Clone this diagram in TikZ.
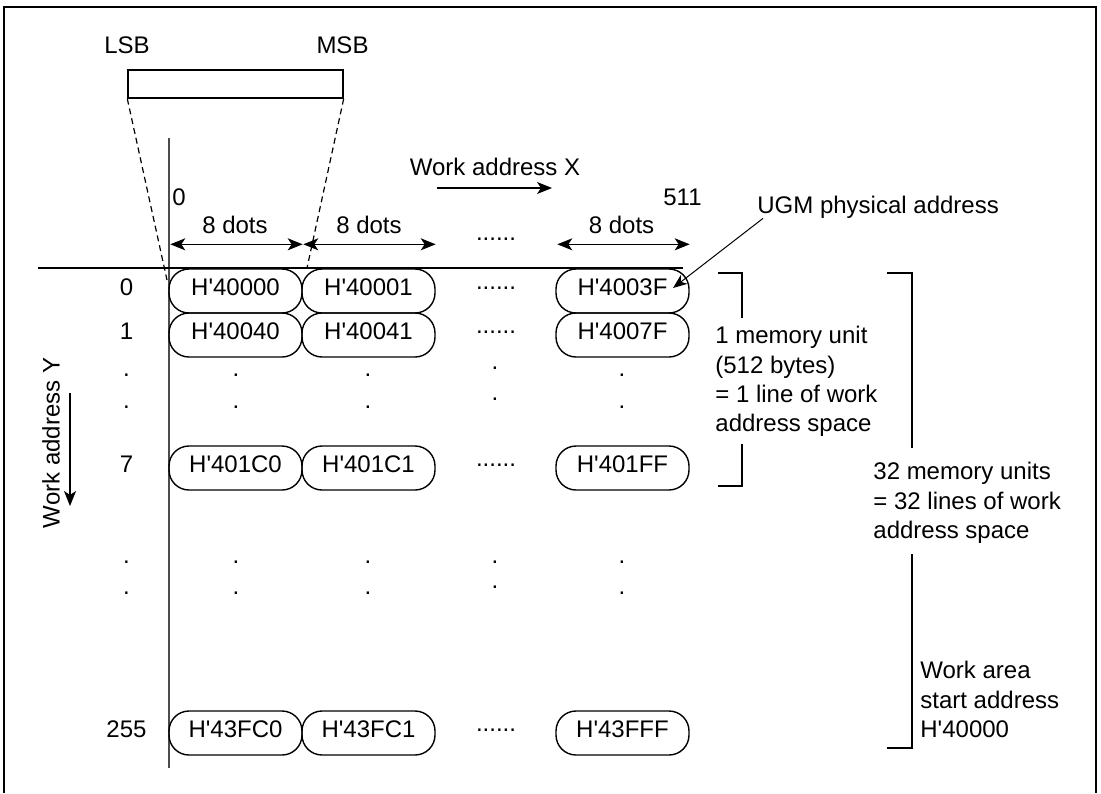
\documentclass[tikz,border=0pt]{standalone}
\usepackage{fontspec}
\setmainfont{Liberation Sans}
\usetikzlibrary{arrows.meta}
\newcommand{\apos}{\textquotesingle}
\begin{document}
\begin{tikzpicture}[x=0.5pt,y=-0.5pt,
  font=\fontsize{12}{14.67}\selectfont,
  every node/.style={inner sep=0pt},
  cell/.style={draw, line width=0.7pt, rounded corners=10pt, minimum width=66.5pt, minimum height=22pt, text depth=3.5pt},
  rowlbl/.style={text depth=3.5pt},
  dotsl/.style={anchor=base},
  tip/.style={Stealth[length=7.5pt,width=6pt,inset=2pt]},
  arr/.style={-{Stealth[length=7.5pt,width=6pt,inset=2pt]}, line width=0.6pt},
  thinarr/.style={-{Stealth[length=7pt,width=5.5pt,inset=2pt]}, line width=0.5pt},
  dim/.style={{Stealth[length=7.5pt,width=6pt,inset=2pt]}-{Stealth[length=7.5pt,width=6pt,inset=2pt]}, line width=0.6pt},
  brk/.style={line width=0.6pt},
  zoomline/.style={dash pattern=on 3pt off 2pt, line width=0.6pt}
]
\useasboundingbox (0,0) rectangle (1101,793);
% frame
\draw[line width=1pt] (4,793) -- (4,7) -- (1096,7) -- (1096,793);

% byte box
\node[anchor=base] (lsb) at (127,53) {LSB};
\node[anchor=base] (msb) at (342.5,53) {MSB};
\node[draw, line width=0.7pt, minimum width=107.5pt, minimum height=14pt] (byte) at (235.5,84) {};

% axes
\draw[line width=1pt, black!70] (169,138) -- (169,768);
\draw[line width=0.6pt] (38,268) -- (683,268);

% cells
\foreach \r/\yy/\a/\b/\c in {0/291/H\apos40000/H\apos40001/H\apos4003F,
                             1/335/H\apos40040/H\apos40041/H\apos4007F,
                             7/468/H\apos401C0/H\apos401C1/H\apos401FF,
                             255/733/H\apos43FC0/H\apos43FC1/H\apos43FFF}{
  \node[cell] (c\r a) at (235.5,\yy) {\a};
  \node[cell] (c\r b) at (368.5,\yy) {\b};
  \node[cell] (c\r d) at (622.5,\yy) {\c};
  \node[rowlbl] (r\r) at (126.5,\yy) {\r};
  \node[dotsl] (e\r) at (496,\yy-2) {......};
}

% dashed zoom lines
\coordinate (zl) at (167,280);
\coordinate (zr) at (307,268);
\draw[zoomline] (byte.south west) -- (zl);
\draw[zoomline] (byte.south east) -- (zr);

% X axis labels
\node[anchor=base] (x0) at (179,205) {0};
\node[anchor=base] (x511) at (682.5,205) {511};
\node[anchor=base] (wax) at (495,175) {Work address X};
\coordinate (waxa) at (437,188);
\coordinate (waxb) at (552,188);
\draw[arr] (waxa) -- (waxb);

% dimension arrows
\draw[dim] ([yshift=12pt,xshift=1pt]c0a.north west) -- ([yshift=12pt]c0a.north east);
\draw[dim] ([yshift=12pt,xshift=1pt]c0b.north west) -- ([yshift=12pt]c0b.north east);
\draw[dim] ([yshift=12pt,xshift=1pt]c0d.north west) -- ([yshift=12pt]c0d.north east);
\node[anchor=base] (d1) at (235,233) {8 dots};
\node[anchor=base] (d2) at (369,233) {8 dots};
\node[anchor=base] (d3) at (621.5,233) {8 dots};
\node[anchor=base] (dd) at (496,240) {......};

% UGM
\node[anchor=base west] (ugm) at (757,213) {UGM physical address};
\coordinate (ugmtip) at (673,288);
\draw[thinarr] ([xshift=3pt]ugm.south west) -- (ugmtip);

% vertical dots
\foreach \x in {126.5,236,368,622}{
  \foreach \y in {375,407,562,593}{
    \node[anchor=base] at (\x,\y+1.5) {.};
  }
}
\foreach \y in {368,399,562,587}{
  \node[anchor=base] at (495,\y+1.5) {.};
}

% Work address Y
\node[rotate=90] (way) at (51,443) {Work address Y};
\coordinate (waya) at (70,393);
\coordinate (wayb) at (70,506);
\draw[arr] (waya) -- (wayb);

% brackets
\draw[brk] (718,273) -- (742,273) -- (742,318);
\draw[brk] (742,444) -- (742,486) -- (718,486);
\node[anchor=north west, align=left] (t1) at (715,326) {1 memory unit\\(512 bytes)\\= 1 line of work\\address space};

\draw[brk] (887,273) -- (912,273) -- (912,448);
\draw[brk] (912,554) -- (912,748) -- (887,748);
\node[anchor=north west, align=left] (t2) at (873,462) {32 memory units\\= 32 lines of work\\address space};
\node[anchor=north west, align=left] (t3) at (920,661) {Work area\\start address\\H\apos40000};
\end{tikzpicture}
\end{document}
